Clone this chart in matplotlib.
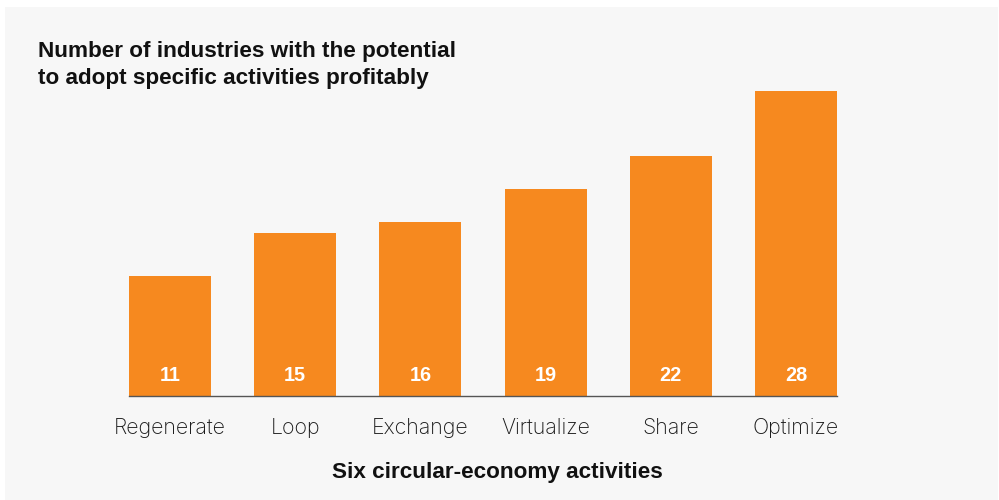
import matplotlib
matplotlib.use("Agg")
import matplotlib.pyplot as plt
from matplotlib.patches import Rectangle

activities = ["Regenerate", "Loop", "Exchange", "Virtualize", "Share", "Optimize"]
industries = [11, 15, 16, 19, 22, 28]

title_lines = ["Number of industries with the potential",
               "to adopt specific activities profitably"]
x_title = "Six circular-economy activities"

bar_color = "#F6891F"
panel_color = "#F7F7F7"
text_color = "#111111"
bold_font = ["Liberation Sans", "DejaVu Sans"]
label_font = ["Inter", "DejaVu Sans"]

fig = plt.figure(figsize=(9.99, 5.0), dpi=100)
fig.patch.set_facecolor("white")
fig.patches.append(Rectangle((5 / 999, 0), 993 / 999, 493 / 500,
                             transform=fig.transFigure, facecolor=panel_color,
                             edgecolor="none", zorder=-1))

W, H = 999, 500
left, right = 129, 837
base, top = 396, 91
ax = fig.add_axes([left / W, (H - base) / H, (right - left) / W, (base - top) / H])
ax.set_facecolor("none")
ax.set_zorder(2)

width = 0.656
xs = list(range(len(activities)))
ax.bar(xs, industries, width=width, color=bar_color, zorder=2)
ax.set_xlim(-width / 2, len(activities) - 1 + width / 2)
ax.set_ylim(0, max(industries))

# value labels sit near the foot of each bar
for x, v in zip(xs, industries):
    ax.annotate(str(v), xy=(x, 0), xytext=(0, 15 * 0.72), textcoords="offset points",
                ha="center", va="baseline", color="white", fontsize=14.3,
                fontweight="bold", family=bold_font, zorder=3)

for s in ["top", "right", "left"]:
    ax.spines[s].set_visible(False)
ax.spines["bottom"].set_color("#555555")
ax.spines["bottom"].set_linewidth(1.0)
ax.set_yticks([])
ax.set_xticks(xs)
ax.set_xticklabels(activities, fontsize=15.4, color="#1a1a1a",
                   family=label_font, fontweight="light")
ax.tick_params(axis="x", length=0, pad=16)

fig.text(497 / W, 1 - 478 / H, x_title, ha="center", va="baseline",
         fontsize=16.2, fontweight="bold", color=text_color, family=bold_font)

fig.text(38 / W, 1 - 57.5 / H, title_lines[0], ha="left", va="baseline",
         fontsize=16.2, fontweight="bold", color=text_color, family=bold_font)
fig.text(38 / W, 1 - 84 / H, title_lines[1], ha="left", va="baseline",
         fontsize=16.2, fontweight="bold", color=text_color, family=bold_font)

fig.savefig("out.png", dpi=100)
